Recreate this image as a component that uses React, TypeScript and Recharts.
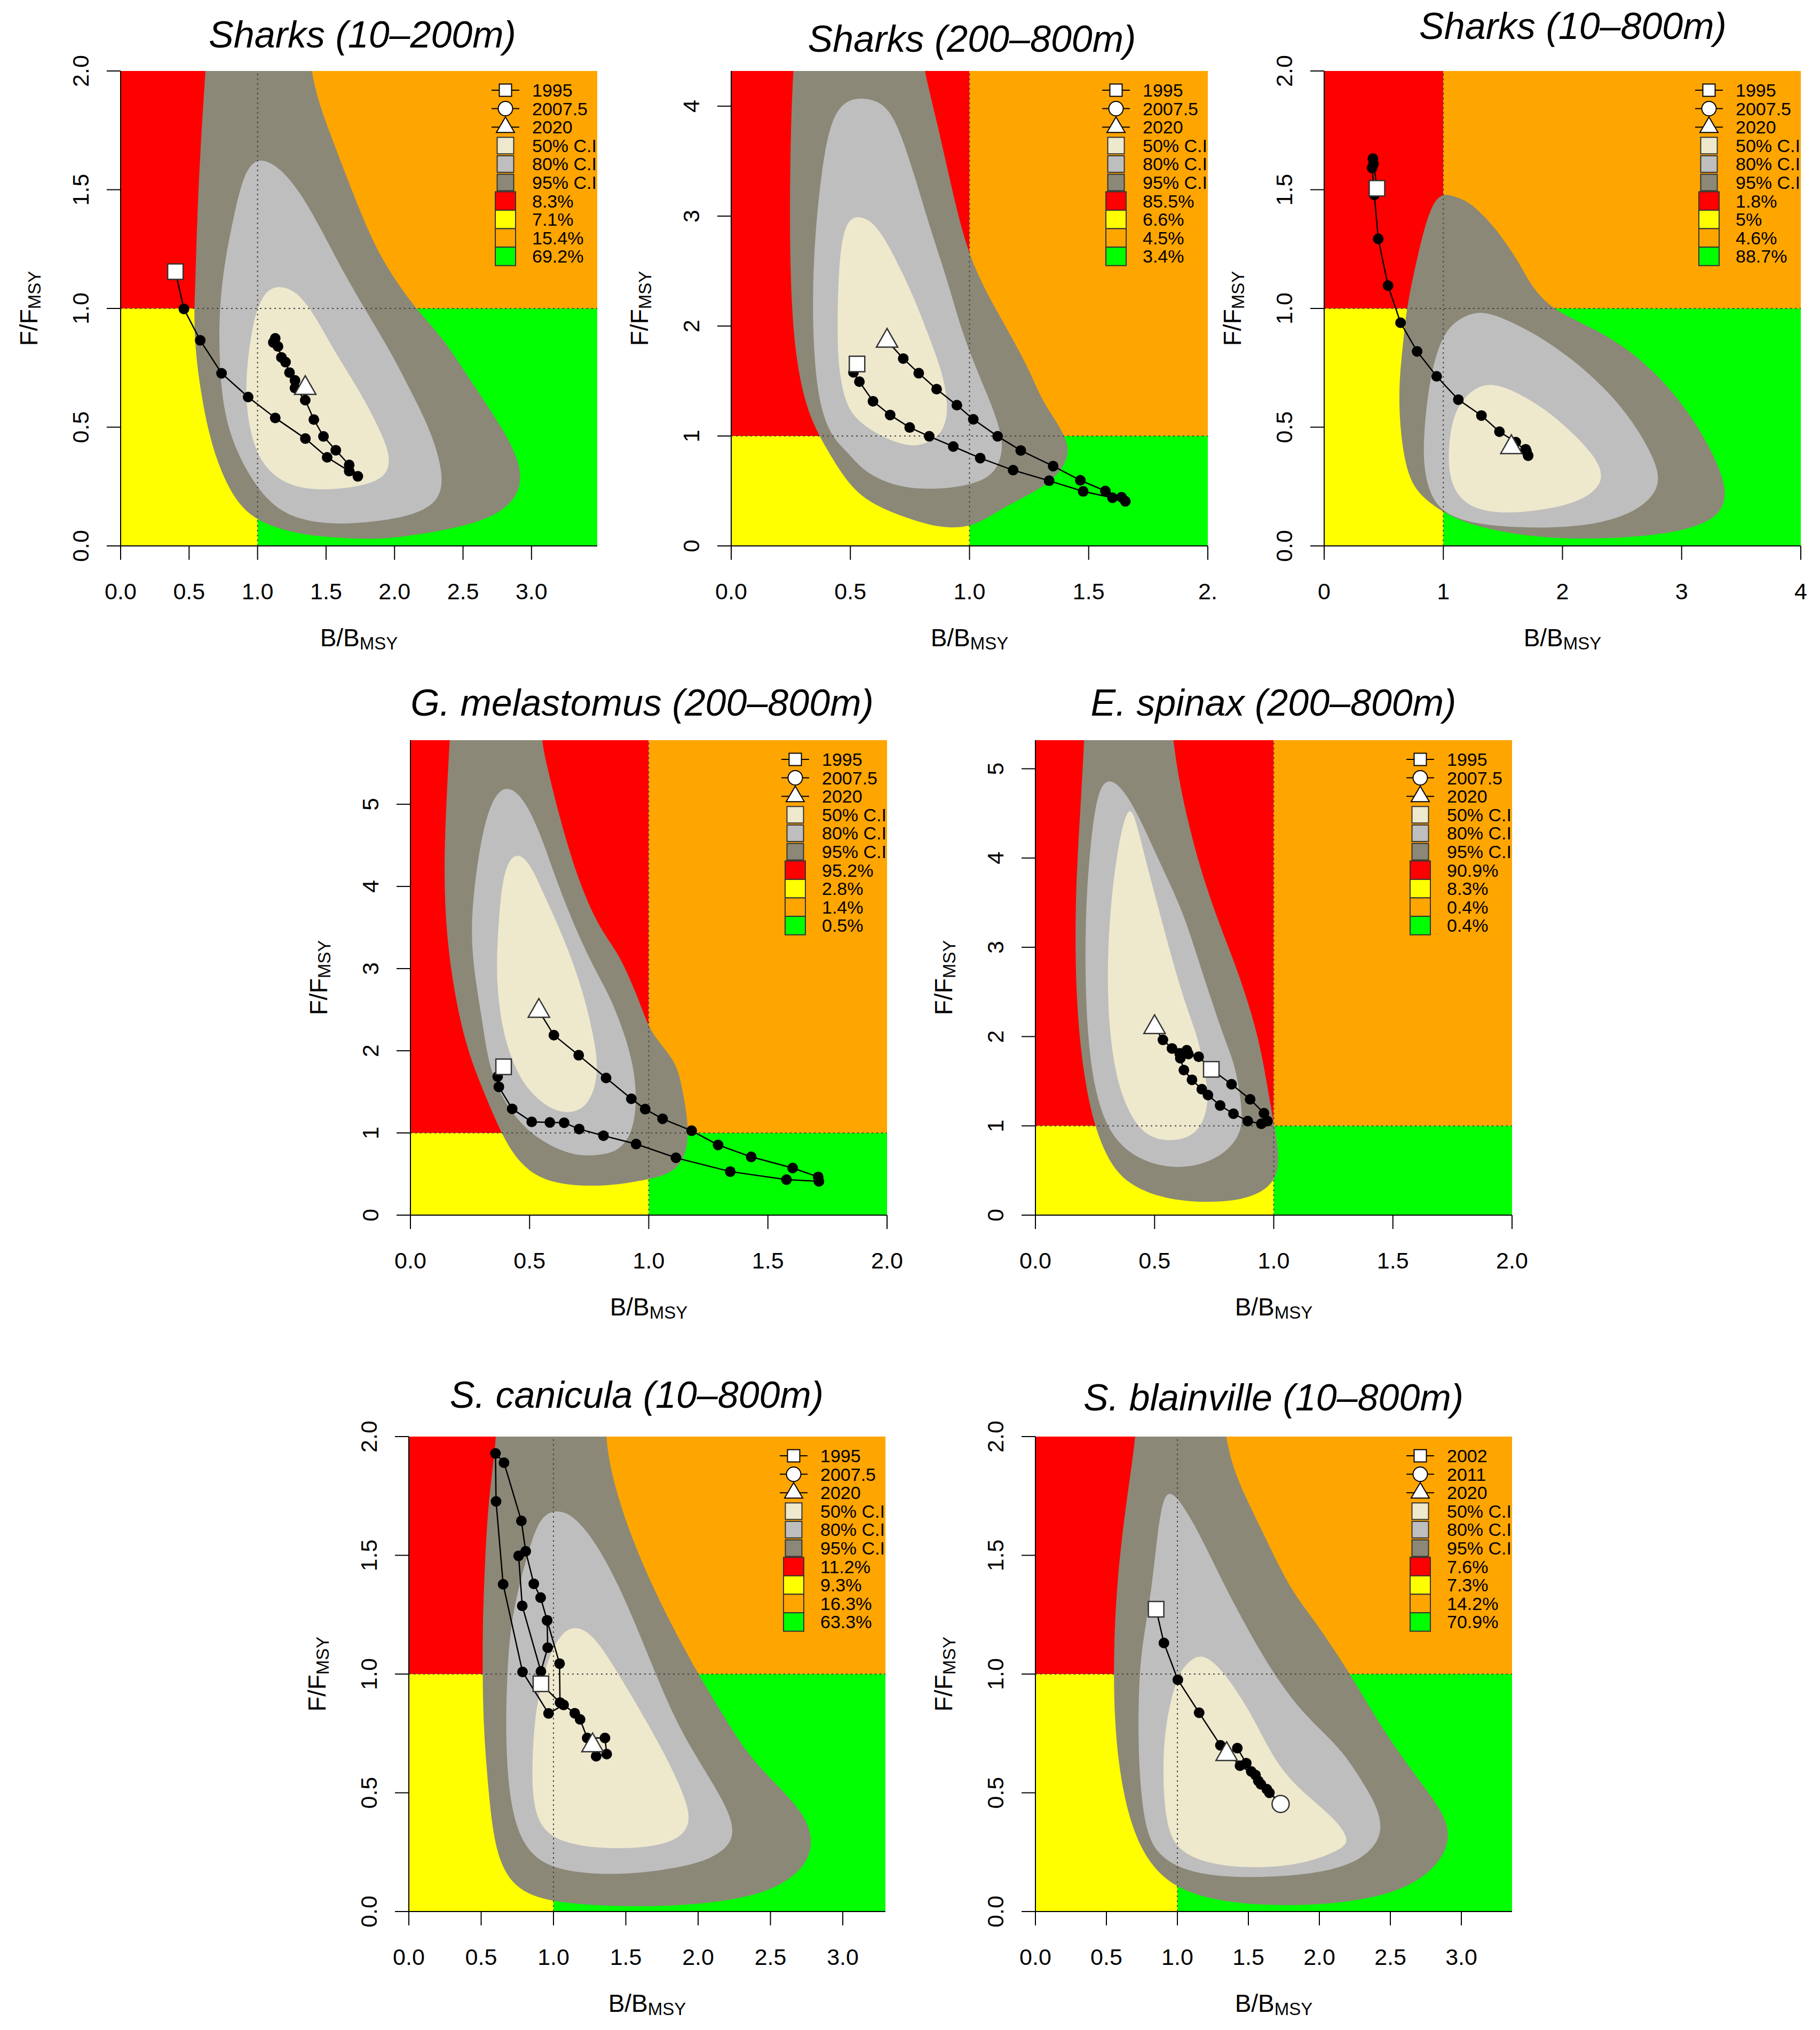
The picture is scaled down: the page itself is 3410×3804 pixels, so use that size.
import React from "react";
import { ComposedChart, XAxis, YAxis, Scatter, ReferenceArea } from "recharts";

type Pt = [number, number];

// Kobe colours as in the R figure (red / yellow / orange / green, cornsilk C.I.)
const RED = "#ff0000";
const YEL = "#ffff00";
const ORA = "#ffa500";
const GRN = "#00ff00";
const C95 = "#8b8878";
const C80 = "#bebebe";
const C50 = "#eee8cd";

// tick positions and labels
const tHalf3 = [0, 0.5, 1, 1.5, 2, 2.5, 3];
const tHalf3Lab = ["0.0", "0.5", "1.0", "1.5", "2.0", "2.5", "3.0"];
const tHalf2 = [0, 0.5, 1, 1.5, 2];
const tHalf2Lab = ["0.0", "0.5", "1.0", "1.5", "2.0"];
const tHalf2LabCut = ["0.0", "0.5", "1.0", "1.5", "2."];
const tInt4 = [0, 1, 2, 3, 4];
const tInt4Lab = ["0", "1", "2", "3", "4"];
const tInt5 = [0, 1, 2, 3, 4, 5];
const tInt5Lab = ["0", "1", "2", "3", "4", "5"];

const yearsA = ["1995", "2007.5", "2020"];
const yearsB = ["2002", "2011", "2020"];

// ---------- Sharks (10–200m)
const p1Ci95: Pt[] = [[0.64, 2.2], [0.62, 2.0], [0.585, 1.7], [0.56, 1.4], [0.545, 1.1], [0.535, 0.95], [0.55, 0.8], [0.585, 0.65], [0.64, 0.48], [0.73, 0.31], [0.87, 0.16], [1.05, 0.09], [1.3, 0.05], [1.55, 0.035], [1.86, 0.025], [2.15, 0.045], [2.5, 0.08], [2.8, 0.14], [2.94, 0.25], [2.9, 0.38], [2.75, 0.53], [2.55, 0.7], [2.35, 0.88], [2.15, 1.0], [1.97, 1.15], [1.86, 1.26], [1.74, 1.42], [1.62, 1.6], [1.5, 1.78], [1.4, 1.95], [1.35, 2.2]];
const p1Ci80: Pt[] = [[1.0, 1.64], [0.9, 1.57], [0.83, 1.4], [0.76, 1.2], [0.72, 1.0], [0.72, 0.8], [0.74, 0.62], [0.8, 0.46], [0.93, 0.3], [1.1, 0.17], [1.3, 0.11], [1.55, 0.09], [1.85, 0.1], [2.15, 0.13], [2.33, 0.19], [2.36, 0.3], [2.27, 0.48], [2.12, 0.65], [1.97, 0.82], [1.78, 1.0], [1.6, 1.18], [1.45, 1.35], [1.3, 1.5], [1.15, 1.6]];
const p1Ci50: Pt[] = [[1.12, 1.1], [1.03, 1.05], [0.97, 0.95], [0.93, 0.8], [0.91, 0.65], [0.94, 0.48], [1.03, 0.34], [1.2, 0.26], [1.4, 0.235], [1.62, 0.24], [1.82, 0.26], [1.95, 0.3], [1.97, 0.38], [1.9, 0.48], [1.76, 0.64], [1.58, 0.8], [1.42, 0.97], [1.28, 1.08]];
const p1Track: Pt[] = [[0.4, 1.155], [0.462, 0.998], [0.581, 0.866], [0.737, 0.727], [0.931, 0.627], [1.129, 0.539], [1.349, 0.452], [1.508, 0.373], [1.669, 0.315], [1.732, 0.293], [1.669, 0.341], [1.571, 0.403], [1.481, 0.461], [1.411, 0.532], [1.348, 0.614], [1.273, 0.665], [1.273, 0.697], [1.233, 0.73], [1.204, 0.774], [1.174, 0.794], [1.149, 0.84], [1.115, 0.857], [1.129, 0.874]];
const p1Square: Pt = [0.4, 1.155];
const p1Triangle: Pt = [1.348, 0.665];
const p1Pct = ["8.3%", "7.1%", "15.4%", "69.2%"];

// ---------- Sharks (200–800m)
const p2Ci95: Pt[] = [[0.27, 4.6], [0.26, 4.32], [0.25, 3.8], [0.245, 3.0], [0.25, 2.3], [0.27, 1.7], [0.32, 1.2], [0.4, 0.88], [0.5, 0.53], [0.6, 0.37], [0.74, 0.25], [0.88, 0.16], [1.0, 0.17], [1.08, 0.26], [1.16, 0.37], [1.31, 0.53], [1.39, 0.69], [1.42, 0.86], [1.4, 1.0], [1.35, 1.18], [1.3, 1.34], [1.24, 1.66], [1.11, 2.15], [1.0, 2.6], [0.93, 3.2], [0.87, 3.8], [0.81, 4.32], [0.79, 4.6]];
const p2Ci80: Pt[] = [[0.49, 4.08], [0.42, 3.9], [0.38, 3.44], [0.35, 2.8], [0.34, 2.2], [0.35, 1.6], [0.38, 1.2], [0.43, 0.97], [0.49, 0.85], [0.55, 0.69], [0.66, 0.56], [0.8, 0.51], [0.95, 0.53], [1.07, 0.6], [1.12, 0.72], [1.14, 0.88], [1.13, 1.05], [1.09, 1.3], [1.03, 1.6], [0.96, 2.0], [0.91, 2.4], [0.84, 2.85], [0.76, 3.44], [0.68, 3.95], [0.6, 4.07]];
const p2Ci50: Pt[] = [[0.52, 3.02], [0.47, 2.9], [0.45, 2.5], [0.445, 2.0], [0.45, 1.6], [0.48, 1.3], [0.52, 1.16], [0.6, 1.03], [0.7, 0.93], [0.78, 0.9], [0.86, 0.97], [0.9, 1.1], [0.91, 1.28], [0.89, 1.55], [0.84, 1.85], [0.76, 2.3], [0.67, 2.7], [0.6, 2.95]];
const p2Track: Pt[] = [[0.528, 1.655], [0.513, 1.579], [0.538, 1.494], [0.595, 1.316], [0.667, 1.191], [0.749, 1.077], [0.831, 0.997], [0.932, 0.904], [1.045, 0.799], [1.183, 0.689], [1.334, 0.593], [1.477, 0.496], [1.6, 0.438], [1.654, 0.406], [1.638, 0.443], [1.57, 0.5], [1.465, 0.597], [1.351, 0.726], [1.215, 0.868], [1.118, 0.997], [1.016, 1.151], [0.947, 1.28], [0.862, 1.426], [0.787, 1.571], [0.722, 1.704], [0.654, 1.866]];
const p2Square: Pt = [0.528, 1.655];
const p2Triangle: Pt = [0.654, 1.866];
const p2Pct = ["85.5%", "6.6%", "4.5%", "3.4%"];

// ---------- Sharks (10–800m)
const p3Ci95: Pt[] = [[1.9, 1.0], [2.2, 0.93], [2.5, 0.85], [2.85, 0.7], [3.15, 0.5], [3.35, 0.3], [3.38, 0.18], [3.25, 0.1], [2.9, 0.05], [2.4, 0.03], [1.9, 0.03], [1.45, 0.06], [1.1, 0.11], [0.85, 0.19], [0.72, 0.27], [0.66, 0.4], [0.63, 0.55], [0.63, 0.7], [0.66, 0.84], [0.69, 1.0], [0.77, 1.19], [0.85, 1.36], [0.93, 1.46], [1.01, 1.485], [1.1, 1.47], [1.22, 1.45], [1.4, 1.36], [1.52, 1.28], [1.64, 1.19], [1.73, 1.1]];
const p3Ci80: Pt[] = [[1.22, 0.98], [1.05, 0.93], [0.95, 0.83], [0.88, 0.68], [0.84, 0.5], [0.83, 0.35], [0.88, 0.22], [1.0, 0.14], [1.2, 0.1], [1.5, 0.08], [1.9, 0.075], [2.3, 0.09], [2.65, 0.15], [2.83, 0.25], [2.78, 0.36], [2.6, 0.52], [2.35, 0.67], [2.05, 0.8], [1.75, 0.9], [1.5, 0.96], [1.35, 0.985]];
const p3Ci50: Pt[] = [[1.33, 0.68], [1.2, 0.64], [1.1, 0.57], [1.05, 0.46], [1.04, 0.34], [1.08, 0.24], [1.2, 0.17], [1.4, 0.14], [1.65, 0.14], [1.95, 0.16], [2.2, 0.2], [2.35, 0.27], [2.3, 0.36], [2.12, 0.46], [1.9, 0.56], [1.65, 0.64], [1.45, 0.68]];
const p3Track: Pt[] = [[0.443, 1.506], [0.409, 1.631], [0.414, 1.609], [0.402, 1.592], [0.421, 1.478], [0.454, 1.293], [0.536, 1.096], [0.641, 0.94], [0.78, 0.819], [0.944, 0.714], [1.126, 0.616], [1.32, 0.549], [1.471, 0.481], [1.608, 0.437], [1.698, 0.398], [1.712, 0.38], [1.691, 0.407]];
const p3Square: Pt = [0.443, 1.506];
const p3Triangle: Pt = [1.571, 0.416];
const p3Pct = ["1.8%", "5%", "4.6%", "88.7%"];

// ---------- G. melastomus (200–800m)
const p4Ci95: Pt[] = [[0.17, 6.1], [0.165, 5.78], [0.15, 5.0], [0.14, 4.2], [0.15, 3.4], [0.19, 2.6], [0.24, 2.0], [0.3, 1.55], [0.38, 1.0], [0.44, 0.7], [0.52, 0.48], [0.62, 0.38], [0.75, 0.35], [0.87, 0.37], [0.97, 0.42], [1.07, 0.48], [1.13, 0.6], [1.16, 0.8], [1.165, 1.0], [1.16, 1.23], [1.14, 1.55], [1.115, 1.88], [1.01, 2.2], [0.97, 2.53], [0.925, 2.85], [0.87, 3.2], [0.79, 3.5], [0.7, 4.1], [0.62, 4.9], [0.57, 5.5], [0.55, 5.78], [0.55, 6.1]];
const p4Ci80: Pt[] = [[0.38, 5.24], [0.32, 4.9], [0.28, 4.3], [0.25, 3.5], [0.27, 2.9], [0.3, 2.4], [0.33, 1.77], [0.4, 1.34], [0.49, 1.02], [0.61, 0.8], [0.72, 0.71], [0.82, 0.74], [0.88, 0.8], [0.93, 1.0], [0.95, 1.34], [0.94, 1.77], [0.9, 2.2], [0.84, 2.64], [0.8, 2.85], [0.72, 3.3], [0.62, 4.0], [0.54, 4.7], [0.46, 5.15]];
const p4Ci50: Pt[] = [[0.44, 4.43], [0.39, 4.2], [0.37, 3.6], [0.36, 3.0], [0.37, 2.6], [0.39, 2.2], [0.44, 1.77], [0.5, 1.5], [0.58, 1.3], [0.66, 1.23], [0.73, 1.3], [0.77, 1.5], [0.785, 1.75], [0.78, 2.0], [0.75, 2.42], [0.71, 2.85], [0.64, 3.4], [0.56, 3.9], [0.5, 4.3]];
const p4Track: Pt[] = [[0.391, 1.805], [0.366, 1.686], [0.371, 1.561], [0.427, 1.293], [0.509, 1.135], [0.585, 1.128], [0.645, 1.124], [0.708, 1.048], [0.81, 0.966], [0.947, 0.865], [1.114, 0.698], [1.342, 0.53], [1.578, 0.432], [1.714, 0.411], [1.711, 0.465], [1.604, 0.573], [1.43, 0.709], [1.291, 0.854], [1.18, 1.027], [1.058, 1.172], [0.985, 1.29], [0.927, 1.416], [0.821, 1.669], [0.706, 1.946], [0.602, 2.19], [0.539, 2.486]];
const p4Square: Pt = [0.391, 1.805];
const p4Triangle: Pt = [0.539, 2.486];
const p4Pct = ["95.2%", "2.8%", "1.4%", "0.5%"];

// ---------- E. spinax (200–800m)
const p5Ci95: Pt[] = [[0.21, 5.7], [0.205, 5.32], [0.19, 4.6], [0.165, 3.5], [0.17, 2.4], [0.2, 1.6], [0.245, 1.0], [0.32, 0.52], [0.42, 0.3], [0.55, 0.18], [0.7, 0.14], [0.85, 0.16], [0.96, 0.26], [1.02, 0.45], [1.02, 0.75], [0.995, 1.1], [0.97, 1.5], [0.94, 1.93], [0.9, 2.32], [0.84, 2.8], [0.78, 3.2], [0.7, 3.8], [0.63, 4.5], [0.58, 5.2], [0.57, 5.7]];
const p5Ci80: Pt[] = [[0.27, 4.91], [0.23, 4.2], [0.205, 3.2], [0.215, 2.0], [0.255, 1.3], [0.32, 0.87], [0.43, 0.62], [0.57, 0.52], [0.7, 0.56], [0.8, 0.7], [0.86, 0.9], [0.87, 1.13], [0.85, 1.5], [0.83, 1.73], [0.79, 2.0], [0.75, 2.32], [0.69, 2.8], [0.62, 3.4], [0.53, 3.9], [0.43, 4.5], [0.35, 4.85]];
const p5Ci50: Pt[] = [[0.39, 4.6], [0.35, 4.2], [0.315, 3.5], [0.3, 2.75], [0.31, 2.0], [0.35, 1.4], [0.42, 1.0], [0.5, 0.84], [0.6, 0.83], [0.68, 0.92], [0.72, 1.15], [0.725, 1.4], [0.7, 1.75], [0.68, 2.0], [0.635, 2.32], [0.58, 2.8], [0.52, 3.4], [0.46, 4.0], [0.42, 4.45]];
const p5Track: Pt[] = [[0.635, 1.847], [0.642, 1.804], [0.685, 1.774], [0.738, 1.633], [0.823, 1.466], [0.901, 1.297], [0.959, 1.142], [0.974, 1.053], [0.948, 1.023], [0.891, 1.053], [0.831, 1.136], [0.775, 1.228], [0.724, 1.345], [0.698, 1.41], [0.657, 1.516], [0.623, 1.625], [0.608, 1.758], [0.605, 1.812], [0.573, 1.867], [0.535, 1.963], [0.5, 2.106]];
const p5Square: Pt = [0.738, 1.633];
const p5Triangle: Pt = [0.5, 2.106];
const p5Pct = ["90.9%", "8.3%", "0.4%", "0.4%"];

// ---------- S. canicula (10–800m)
const p6Ci95: Pt[] = [[0.61, 2.2], [0.61, 2.0], [0.55, 1.74], [0.525, 1.46], [0.51, 1.2], [0.51, 1.0], [0.515, 0.8], [0.54, 0.58], [0.58, 0.32], [0.65, 0.17], [0.78, 0.08], [1.0, 0.04], [1.3, 0.025], [1.65, 0.02], [2.0, 0.03], [2.3, 0.055], [2.55, 0.1], [2.75, 0.19], [2.8, 0.31], [2.72, 0.42], [2.55, 0.53], [2.34, 0.66], [2.15, 0.85], [2.0, 1.0], [1.83, 1.19], [1.66, 1.4], [1.51, 1.62], [1.4, 1.84], [1.36, 2.0], [1.35, 2.2]];
const p6Ci80: Pt[] = [[0.95, 1.68], [0.88, 1.62], [0.82, 1.5], [0.76, 1.37], [0.7, 1.19], [0.68, 1.0], [0.67, 0.8], [0.68, 0.58], [0.72, 0.4], [0.8, 0.27], [0.95, 0.19], [1.2, 0.16], [1.5, 0.155], [1.83, 0.18], [2.1, 0.22], [2.26, 0.3], [2.22, 0.42], [2.05, 0.59], [1.85, 0.79], [1.66, 1.07], [1.48, 1.34], [1.3, 1.55], [1.15, 1.66], [1.05, 1.69]];
const p6Ci50: Pt[] = [[1.085, 1.19], [1.0, 1.12], [0.93, 1.0], [0.87, 0.83], [0.85, 0.6], [0.86, 0.45], [0.92, 0.34], [1.1, 0.28], [1.45, 0.26], [1.8, 0.28], [1.95, 0.35], [1.93, 0.46], [1.75, 0.69], [1.5, 0.95], [1.3, 1.15], [1.18, 1.2]];
const p6Track: Pt[] = [[0.913, 0.959], [1.045, 0.88], [1.042, 1.044], [0.956, 1.226], [0.911, 1.322], [0.864, 1.38], [0.808, 1.517], [0.778, 1.645], [0.658, 1.89], [0.599, 1.929], [0.603, 1.727], [0.652, 1.378], [0.786, 1.009], [0.966, 0.834], [1.07, 0.87], [1.147, 0.835], [1.184, 0.809], [1.233, 0.731], [1.356, 0.731], [1.368, 0.663], [1.295, 0.654], [1.27, 0.7]];
const p6Branch: Pt[] = [[0.759, 1.498], [0.784, 1.287], [0.913, 1.011], [0.96, 1.111], [0.956, 1.226]];
const p6Square: Pt = [0.913, 0.959];
const p6Triangle: Pt = [1.27, 0.7];
const p6Pct = ["11.2%", "9.3%", "16.3%", "63.3%"];

// ---------- S. blainville (10–800m)
const p7Ci95: Pt[] = [[0.72, 2.2], [0.71, 2.0], [0.64, 1.73], [0.575, 1.4], [0.55, 1.1], [0.555, 0.8], [0.6, 0.55], [0.68, 0.35], [0.8, 0.2], [1.0, 0.09], [1.35, 0.035], [1.8, 0.022], [2.25, 0.04], [2.62, 0.095], [2.85, 0.2], [2.93, 0.32], [2.86, 0.43], [2.68, 0.57], [2.45, 0.76], [2.22, 1.0], [1.95, 1.24], [1.79, 1.36], [1.6, 1.6], [1.45, 1.78], [1.35, 1.94], [1.3, 2.2]];
const p7Ci80: Pt[] = [[0.91, 1.78], [0.86, 1.6], [0.82, 1.36], [0.76, 1.15], [0.73, 1.0], [0.72, 0.68], [0.76, 0.37], [0.85, 0.24], [1.05, 0.17], [1.37, 0.14], [1.9, 0.15], [2.27, 0.2], [2.45, 0.31], [2.42, 0.43], [2.3, 0.55], [2.17, 0.67], [2.0, 0.77], [1.85, 0.86], [1.68, 1.0], [1.54, 1.14], [1.34, 1.36], [1.15, 1.6], [1.0, 1.75]];
const p7Ci50: Pt[] = [[1.14, 1.08], [1.06, 1.04], [1.0, 0.99], [0.94, 0.86], [0.9, 0.7], [0.9, 0.5], [0.93, 0.35], [1.0, 0.26], [1.2, 0.2], [1.55, 0.18], [1.9, 0.2], [2.15, 0.26], [2.22, 0.3], [2.1, 0.4], [1.8, 0.54], [1.64, 0.685], [1.52, 0.835], [1.34, 1.0], [1.22, 1.07]];
const p7Track: Pt[] = [[0.85, 1.273], [0.905, 1.131], [1.003, 0.976], [1.153, 0.837], [1.303, 0.7], [1.441, 0.614], [1.55, 0.575], [1.588, 0.536], [1.648, 0.5], [1.727, 0.453], [1.63, 0.515], [1.57, 0.55], [1.52, 0.59], [1.485, 0.625], [1.422, 0.688], [1.347, 0.663]];
const p7Square: Pt = [0.85, 1.273];
const p7Circle: Pt = [1.727, 0.453];
const p7Triangle: Pt = [1.347, 0.663];
const p7Pct = ["7.6%", "7.3%", "14.2%", "70.9%"];

type PanelCfg = {
  title: string; left: number; top: number; titleX: number; titleY: number;
  xMax: number; yMax: number; xTicks: number[]; xLabels: string[]; yTicks: number[]; yLabels: string[];
  ci95: Pt[]; ci80: Pt[]; ci50: Pt[]; track: Pt[]; branch: Pt[];
  square: Pt; circle: Pt | null; triangle: Pt; years: string[]; pct: string[];
};

const panels: PanelCfg[] = [
  { title: "Sharks (10–200m)", left: 226, top: 133, titleX: 679, titleY: 65, xMax: 3.48, yMax: 2, xTicks: tHalf3, xLabels: tHalf3Lab, yTicks: tHalf2, yLabels: tHalf2Lab, ci95: p1Ci95, ci80: p1Ci80, ci50: p1Ci50, track: p1Track, branch: [], square: p1Square, circle: null, triangle: p1Triangle, years: yearsA, pct: p1Pct },
  { title: "Sharks (200–800m)", left: 1370, top: 133, titleX: 1821, titleY: 73, xMax: 2, yMax: 4.32, xTicks: tHalf2, xLabels: tHalf2LabCut, yTicks: tInt4, yLabels: tInt4Lab, ci95: p2Ci95, ci80: p2Ci80, ci50: p2Ci50, track: p2Track, branch: [], square: p2Square, circle: null, triangle: p2Triangle, years: yearsA, pct: p2Pct },
  { title: "Sharks (10–800m)", left: 2481, top: 133, titleX: 2947, titleY: 49, xMax: 4, yMax: 2, xTicks: tInt4, xLabels: tInt4Lab, yTicks: tHalf2, yLabels: tHalf2Lab, ci95: p3Ci95, ci80: p3Ci80, ci50: p3Ci50, track: p3Track, branch: [], square: p3Square, circle: null, triangle: p3Triangle, years: yearsA, pct: p3Pct },
  { title: "G. melastomus (200–800m)", left: 769, top: 1387, titleX: 1203, titleY: 1317, xMax: 2, yMax: 5.78, xTicks: tHalf2, xLabels: tHalf2Lab, yTicks: tInt5, yLabels: tInt5Lab, ci95: p4Ci95, ci80: p4Ci80, ci50: p4Ci50, track: p4Track, branch: [], square: p4Square, circle: null, triangle: p4Triangle, years: yearsA, pct: p4Pct },
  { title: "E. spinax (200–800m)", left: 1940, top: 1387, titleX: 2386, titleY: 1317, xMax: 2, yMax: 5.32, xTicks: tHalf2, xLabels: tHalf2Lab, yTicks: tInt5, yLabels: tInt5Lab, ci95: p5Ci95, ci80: p5Ci80, ci50: p5Ci50, track: p5Track, branch: [], square: p5Square, circle: null, triangle: p5Triangle, years: yearsA, pct: p5Pct },
  { title: "S. canicula (10–800m)", left: 766, top: 2692, titleX: 1193, titleY: 2614, xMax: 3.295, yMax: 2, xTicks: tHalf3, xLabels: tHalf3Lab, yTicks: tHalf2, yLabels: tHalf2Lab, ci95: p6Ci95, ci80: p6Ci80, ci50: p6Ci50, track: p6Track, branch: p6Branch, square: p6Square, circle: null, triangle: p6Triangle, years: yearsA, pct: p6Pct },
  { title: "S. blainville (10–800m)", left: 1940, top: 2692, titleX: 2386, titleY: 2619, xMax: 3.357, yMax: 2, xTicks: tHalf3, xLabels: tHalf3Lab, yTicks: tHalf2, yLabels: tHalf2Lab, ci95: p7Ci95, ci80: p7Ci80, ci50: p7Ci50, track: p7Track, branch: [], square: p7Square, circle: p7Circle, triangle: p7Triangle, years: yearsB, pct: p7Pct },
];

const PW = 893;
const PH = 890;
const PL = 230;
const PT = 110;
const PR = 34;
const PB = 230;
const TICK = 26;
const FONT = "'Liberation Sans', Arial, Helvetica, sans-serif";

const toPts = (a: Pt[]) => a.map(([x, y]) => ({ x, y }));
const noShape = () => <g />;
const dotShape = (p: any) => <circle cx={p.cx} cy={p.cy} r={10} fill="#000" />;
const squareShape = (p: any) => (
  <rect x={p.cx - 14.5} y={p.cy - 14.5} width={29} height={29} fill="#fff" stroke="#333" strokeWidth={2.5} />
);
const circleShape = (p: any) => <circle cx={p.cx} cy={p.cy} r={16} fill="#fff" stroke="#333" strokeWidth={2.5} />;
const triangleShape = (p: any) => (
  <polygon
    points={`${p.cx},${p.cy - 23} ${p.cx - 20},${p.cy + 12} ${p.cx + 20},${p.cy + 12}`}
    fill="#fff"
    stroke="#333"
    strokeWidth={2.5}
  />
);

function Legend({ right, top, years, pct }: { right: number; top: number; years: string[]; pct: string[] }) {
  const sx = right - 172;
  const tx = right - 122;
  const rowH = 34.6;
  const cy = (i: number) => top + 36 + i * rowH;
  const ciCols = [C50, C80, C95];
  const ciLab = ["50% C.I", "80% C.I", "95% C.I"];
  const zoneCols = [RED, YEL, ORA, GRN];
  return (
    <g fontSize={34} fill="#000">
      {years.map((yr, i) => (
        <g key={yr}>
          <line x1={sx - 26} x2={sx + 26} y1={cy(i)} y2={cy(i)} stroke="#000" strokeWidth={2} />
          {i === 0 && <rect x={sx - 11.5} y={cy(i) - 11.5} width={23} height={23} fill="#fff" stroke="#000" strokeWidth={2} />}
          {i === 1 && <circle cx={sx} cy={cy(i)} r={13.5} fill="#fff" stroke="#000" strokeWidth={2} />}
          {i === 2 && (
            <polygon points={`${sx},${cy(i) - 19} ${sx - 17},${cy(i) + 10} ${sx + 17},${cy(i) + 10}`} fill="#fff" stroke="#000" strokeWidth={2} />
          )}
          <text x={tx} y={cy(i)} dominantBaseline="central">{yr}</text>
        </g>
      ))}
      {ciCols.map((c, k) => (
        <g key={c}>
          <rect x={sx - 15.5} y={cy(k + 3) - 15.5} width={31} height={31} fill={c} stroke="#333" strokeWidth={2} />
          <text x={tx} y={cy(k + 3)} dominantBaseline="central">{ciLab[k]}</text>
        </g>
      ))}
      {zoneCols.map((c, k) => (
        <g key={c}>
          <rect x={sx - 19} y={cy(k + 6) - rowH / 2} width={38} height={rowH} fill={c} stroke="#333" strokeWidth={2} />
          <text x={tx} y={cy(k + 6)} dominantBaseline="central">{pct[k]}</text>
        </g>
      ))}
    </g>
  );
}

function Panel({ p }: { p: PanelCfg }) {
  const W = PL + PW + PR;
  const H = PT + PH + PB;
  const offX = p.left - PL;
  const offY = p.top - PT;
  const [tx, ty] = p.triangle;
  const dots = p.track.filter(([x, y]) => !(x === tx && y === ty));

  const XTick = (t: any) => {
    const i = p.xTicks.indexOf(t.payload.value);
    return (
      <text x={t.x} y={t.y - TICK + 85} textAnchor="middle" dominantBaseline="central" fontSize={43} fontFamily={FONT} fill="#000">
        {p.xLabels[i]}
      </text>
    );
  };
  const YTick = (t: any) => {
    const i = p.yTicks.indexOf(t.payload.value);
    const cx = t.x + TICK - 75;
    return (
      <text x={cx} y={t.y} transform={`rotate(-90 ${cx} ${t.y})`} textAnchor="middle" dominantBaseline="central" fontSize={43} fontFamily={FONT} fill="#000">
        {p.yLabels[i]}
      </text>
    );
  };

  return (
    <div style={{ position: "absolute", left: offX, top: offY, width: W, height: H }}>
      <ComposedChart width={W} height={H} margin={{ top: PT, right: PR, bottom: 0, left: 0 }}>
        <XAxis
          type="number"
          dataKey="x"
          domain={[0, p.xMax]}
          ticks={p.xTicks}
          interval={0}
          allowDataOverflow
          height={PB}
          tickSize={TICK}
          tickMargin={0}
          tick={XTick}
          tickLine={{ stroke: "#000", strokeWidth: 2 }}
          axisLine={{ stroke: "#000", strokeWidth: 2 }}
        />
        <YAxis
          type="number"
          dataKey="y"
          domain={[0, p.yMax]}
          ticks={p.yTicks}
          interval={0}
          allowDataOverflow
          width={PL}
          tickSize={TICK}
          tickMargin={0}
          tick={YTick}
          tickLine={{ stroke: "#000", strokeWidth: 2 }}
          axisLine={{ stroke: "#000", strokeWidth: 2 }}
        />
        <ReferenceArea x1={0} x2={1} y1={1} y2={p.yMax} fill={RED} fillOpacity={1} stroke="none" />
        <ReferenceArea x1={0} x2={1} y1={0} y2={1} fill={YEL} fillOpacity={1} stroke="none" />
        <ReferenceArea x1={1} x2={p.xMax} y1={1} y2={p.yMax} fill={ORA} fillOpacity={1} stroke="none" />
        <ReferenceArea x1={1} x2={p.xMax} y1={0} y2={1} fill={GRN} fillOpacity={1} stroke="none" />
        <Scatter data={toPts(p.ci95)} line={{ fill: C95, stroke: "none" }} lineType="joint" lineJointType="basisClosed" shape={noShape} isAnimationActive={false} />
        <Scatter data={toPts(p.ci80)} line={{ fill: C80, stroke: "none" }} lineType="joint" lineJointType="basisClosed" shape={noShape} isAnimationActive={false} />
        <Scatter data={toPts(p.ci50)} line={{ fill: C50, stroke: "none" }} lineType="joint" lineJointType="basisClosed" shape={noShape} isAnimationActive={false} />
        <Scatter data={[{ x: 1, y: 0 }, { x: 1, y: p.yMax }]} line={{ stroke: "#444", strokeWidth: 2, strokeDasharray: "3 6" }} lineType="joint" shape={noShape} isAnimationActive={false} />
        <Scatter data={[{ x: 0, y: 1 }, { x: p.xMax, y: 1 }]} line={{ stroke: "#444", strokeWidth: 2, strokeDasharray: "3 6" }} lineType="joint" shape={noShape} isAnimationActive={false} />
        {p.branch.length > 0 && (
          <Scatter data={toPts(p.branch)} line={{ stroke: "#000", strokeWidth: 2.5 }} lineType="joint" shape={dotShape} isAnimationActive={false} />
        )}
        <Scatter data={toPts(p.track)} line={{ stroke: "#000", strokeWidth: 2.5 }} lineType="joint" shape={noShape} isAnimationActive={false} />
        <Scatter data={toPts(dots)} shape={dotShape} isAnimationActive={false} />
        <Scatter data={toPts([p.square])} shape={squareShape} isAnimationActive={false} />
        {p.circle && <Scatter data={toPts([p.circle])} shape={circleShape} isAnimationActive={false} />}
        <Scatter data={toPts([p.triangle])} shape={triangleShape} isAnimationActive={false} />
      </ComposedChart>
      <svg width={W} height={H} style={{ position: "absolute", left: 0, top: 0, overflow: "visible", pointerEvents: "none" }} fontFamily={FONT}>
        <text x={p.titleX - offX} y={p.titleY - offY} textAnchor="middle" dominantBaseline="central" fontSize={70} fontStyle="italic" fill="#000">
          {p.title}
        </text>
        <text x={PL + PW / 2} y={PT + PH + 172} textAnchor="middle" dominantBaseline="central" fontSize={46} fill="#000">
          B/B<tspan fontSize={33} dy={10}>MSY</tspan>
        </text>
        <text
          x={PL - 172}
          y={PT + PH / 2}
          transform={`rotate(-90 ${PL - 172} ${PT + PH / 2})`}
          textAnchor="middle"
          dominantBaseline="central"
          fontSize={46}
          fill="#000"
        >
          F/F<tspan fontSize={33} dy={10}>MSY</tspan>
        </text>
        <Legend right={PL + PW} top={PT} years={p.years} pct={p.pct} />
      </svg>
    </div>
  );
}

export default function App() {
  return (
    <div style={{ position: "absolute", left: 0, top: 0, width: 3410, height: 3804, background: "#fff", fontFamily: FONT }}>
      {panels.map((p) => (
        <Panel key={p.title} p={p} />
      ))}
    </div>
  );
}
